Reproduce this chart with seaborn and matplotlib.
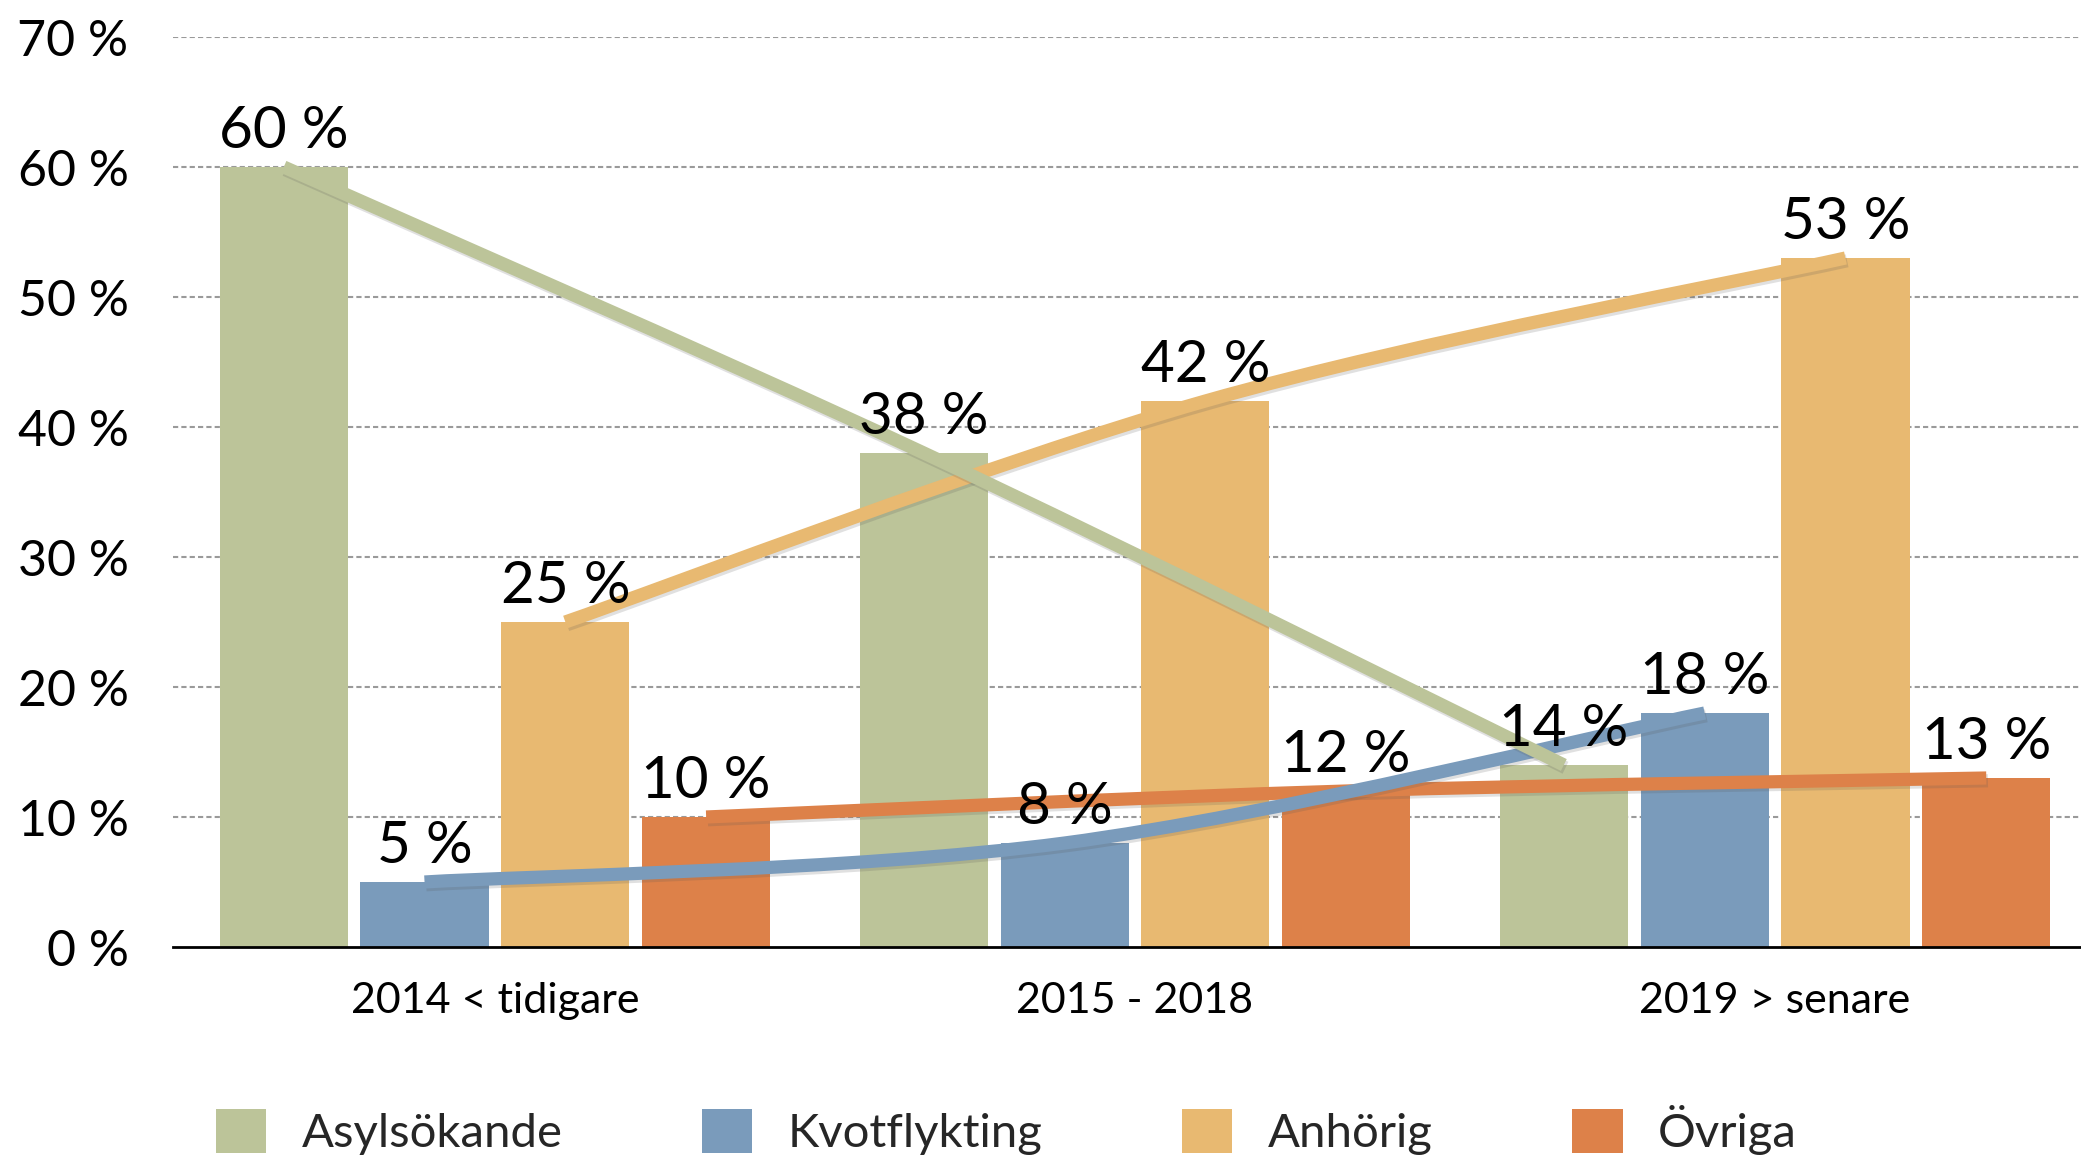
import numpy as np
import pandas as pd
import matplotlib
matplotlib.use("Agg")
import matplotlib.pyplot as plt
import seaborn as sns
from matplotlib.path import Path
from matplotlib.patches import PathPatch
import matplotlib.patheffects as pe

# ---- data ----
periods = ["2014 < tidigare", "2015 - 2018", "2019 > senare"]
groups = ["Asylsökande", "Kvotflykting", "Anhörig", "Övriga"]
asyl = [60, 38, 14]
kvot = [5, 8, 18]
anhorig = [25, 42, 53]
ovriga = [10, 12, 13]
colors = ["#BCC499", "#7A9BBB", "#E8B971", "#DD8149"]
yticks = [0, 10, 20, 30, 40, 50, 60, 70]

series = [asyl, kvot, anhorig, ovriga]
df = pd.DataFrame({
    "period": [p for s in series for p in periods],
    "group": [g for g, s in zip(groups, series) for _ in periods],
    "value": [v for s in series for v in s],
})

sns.set_theme(style="white")
FONT = ["Lato", "DejaVu Sans"]
plt.rcParams["font.family"] = FONT

W, H = 2081, 1160
fig = plt.figure(figsize=(W / 100, H / 100), dpi=100)
ax = fig.add_axes([173 / W, 1 - 947 / H, (W - 173) / W, (947 - 37) / H])

sns.barplot(data=df, x="period", y="value", hue="group", order=periods,
            hue_order=groups, palette=colors, saturation=1, width=0.88,
            gap=0.09, ax=ax, legend=True, edgecolor="none", linewidth=0,
            zorder=2)

ax.set_xlim(-0.503, 2.478)
ax.set_ylim(0, 70)
ax.set_yticks(yticks)
ax.set_yticklabels([f"{t} %" for t in yticks])
ax.set_xlabel("")
ax.set_ylabel("")
for s in ["left", "right", "top"]:
    ax.spines[s].set_visible(False)
ax.spines["bottom"].set_color("black")
ax.spines["bottom"].set_linewidth(2)
ax.spines["bottom"].set_zorder(5)
ax.tick_params(axis="y", length=0, pad=32, labelsize=36, labelcolor="black")
ax.tick_params(axis="x", length=0, pad=25, labelsize=31, labelcolor="black")
ax.grid(False)
for t in yticks[1:]:
    ax.axhline(t, color="#9a9a9a", lw=1.5, linestyle=(0, (2.5, 1.5)), zorder=1)

# smooth trend lines through bar tops
line_z = [4.4, 4.3, 4.2, 4.1]
for i, cont in enumerate(ax.containers):
    xs = np.array([p.get_x() + p.get_width() / 2 for p in cont])
    ys = np.array([p.get_height() for p in cont])
    pts = np.column_stack([xs, ys])
    n = len(pts)
    verts = [pts[0]]
    codes = [Path.MOVETO]
    for k in range(n - 1):
        p0 = pts[k - 1] if k > 0 else pts[k]
        p1 = pts[k]
        p2 = pts[k + 1]
        p3 = pts[k + 2] if k + 2 < n else pts[k + 1]
        c1 = p1 + (p2 - p0) / 6
        c2 = p2 - (p3 - p1) / 6
        verts += [c1, c2, p2]
        codes += [Path.CURVE4] * 3
    patch = PathPatch(Path(verts, codes), facecolor="none", edgecolor=colors[i],
                      lw=9.5, capstyle="butt", joinstyle="round", zorder=line_z[i],
                      path_effects=[pe.SimpleLineShadow(offset=(1.2, -2), shadow_color="#555555", alpha=0.18),
                                    pe.Normal()])
    ax.add_patch(patch)
    for x, y in zip(xs, ys):
        ax.annotate(f"{int(y)} %", (x, y), xytext=(0, 14), textcoords="offset points",
                    ha="center", va="baseline", fontsize=42, color="black", zorder=6)

handles, labels = ax.get_legend_handles_labels()
ax.get_legend().remove()
fs_leg = 34
fig.legend(handles, labels, loc="center", bbox_to_anchor=(0.4835, 0.026), ncol=4,
           frameon=False, fontsize=fs_leg, handlelength=1.07, handleheight=1.07,
           handletextpad=0.75, columnspacing=2.95, borderaxespad=0)

fig.savefig("out.png", dpi=100)
